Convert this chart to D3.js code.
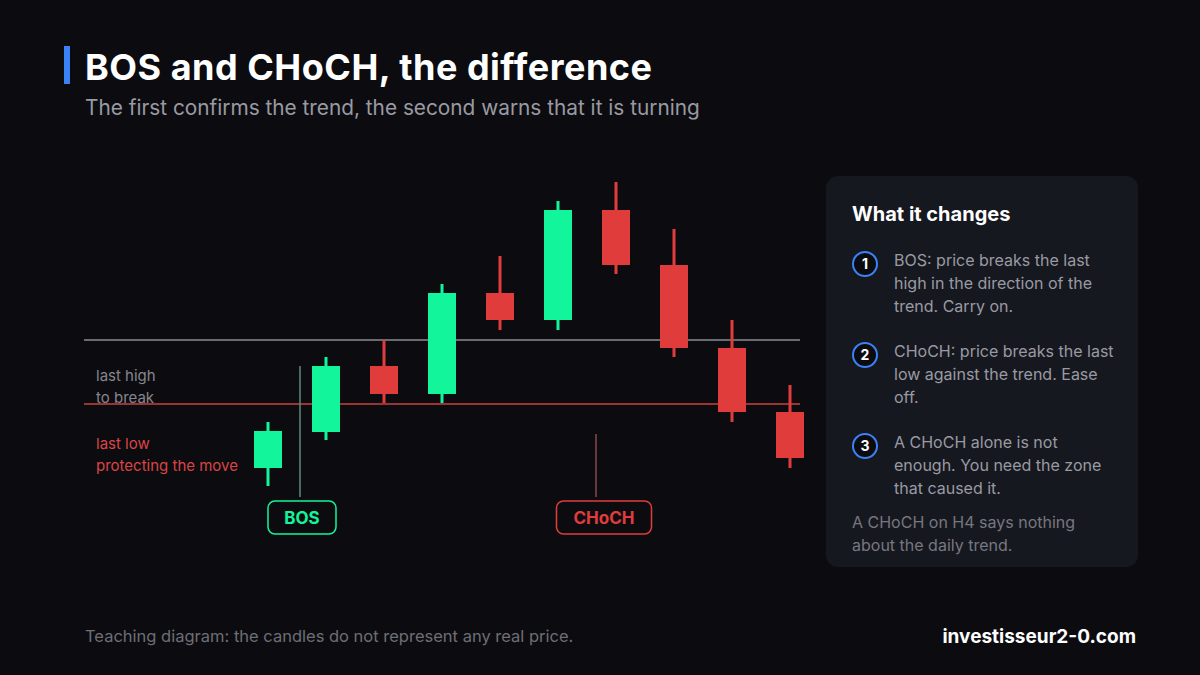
<!DOCTYPE html>
<html lang="en">
<head>
<meta charset="utf-8">
<script src="https://d3js.org/d3.v7.min.js"></script>
<style>
  html, body { margin: 0; padding: 0; background: #0c0c10; }
  text { font-family: Inter, "Noto Sans", sans-serif; }
</style>
</head>
<body>
<script>
// candles in arbitrary price units
var opens  = [32, 68, 134, 106, 207, 180, 290, 235, 152, 88];
var closes = [69, 134, 106, 207, 180, 290, 235, 152, 88, 42];
var highs  = [78, 143, 160, 216, 244, 299, 318, 271, 180, 115];
var lows   = [14, 60, 97, 97, 170, 170, 226, 143, 78, 32];
var lastHigh = 160, lastLow = 96;
var steps = [
  ["BOS: price breaks the last", "high in the direction of the", "trend. Carry on."],
  ["CHoCH: price breaks the last", "low against the trend. Ease", "off."],
  ["A CHoCH alone is not", "enough. You need the zone", "that caused it."]
];

var w = 1200, h = 675;
var green = "#12f59a", red = "#e03c3c";
var svg = d3.select("body").append("svg").attr("width", w).attr("height", h);
svg.append("rect").attr("width", w).attr("height", h).attr("fill", "#0c0c10");

// title
svg.append("rect").attr("x", 64).attr("y", 46).attr("width", 6).attr("height", 38).attr("fill", "#3b82f6");
svg.append("text").attr("x", 85).attr("y", 80).attr("fill", "#fff").attr("font-size", 36).attr("font-weight", 700)
  .attr("font-family", "'DejaVu Sans', sans-serif").attr("letter-spacing", "0.5").text("BOS and CHoCH, the difference");
svg.append("text").attr("x", 85).attr("y", 115).attr("fill", "#9a9aa3").attr("font-size", 20.8)
  .text("The first confirms the trend, the second warns that it is turning");

var x = d3.scaleLinear().domain([0, 9]).range([268, 790]);
var y = d3.scaleLinear().domain([0, 330]).range([500, 170]);
var bw = 28;

// levels
svg.append("line").attr("x1", 84).attr("x2", 800).attr("y1", y(lastHigh)).attr("y2", y(lastHigh))
  .attr("stroke", "#8a8a92").attr("stroke-width", 1.5);
svg.append("line").attr("x1", 84).attr("x2", 800).attr("y1", y(lastLow)).attr("y2", y(lastLow))
  .attr("stroke", "#c94040").attr("stroke-width", 1.5);

svg.append("text").attr("x", 96).attr("y", 381).attr("fill", "#85858d").attr("font-size", 15).text("last high");
svg.append("text").attr("x", 96).attr("y", 403).attr("fill", "#85858d").attr("font-size", 15).text("to break");
svg.append("text").attr("x", 96).attr("y", 449).attr("fill", "#d94545").attr("font-size", 15).text("last low");
svg.append("text").attr("x", 96).attr("y", 471).attr("fill", "#d94545").attr("font-size", 15).text("protecting the move");

// candles
var g = svg.append("g").selectAll("g").data(opens).join("g");
g.append("line")
  .attr("x1", function(d, i) { return x(i); }).attr("x2", function(d, i) { return x(i); })
  .attr("y1", function(d, i) { return y(highs[i]); }).attr("y2", function(d, i) { return y(lows[i]); })
  .attr("stroke", function(d, i) { return closes[i] > d ? green : red; }).attr("stroke-width", 3);
g.append("rect")
  .attr("x", function(d, i) { return x(i) - bw / 2; }).attr("width", bw)
  .attr("y", function(d, i) { return y(Math.max(d, closes[i])); })
  .attr("height", function(d, i) { return Math.abs(y(d) - y(closes[i])); })
  .attr("fill", function(d, i) { return closes[i] > d ? green : red; });

// markers
function marker(cx, y1, lineColor, label, color, bxw, bx) {
  svg.append("line").attr("x1", cx).attr("x2", cx).attr("y1", y1).attr("y2", 497)
    .attr("stroke", lineColor).attr("stroke-width", 1.5);
  svg.append("rect").attr("x", bx - bxw / 2).attr("y", 501).attr("width", bxw).attr("height", 33).attr("rx", 7)
    .attr("fill", "#0c0c10").attr("stroke", color).attr("stroke-width", 1.5);
  svg.append("text").attr("x", bx).attr("y", 524).attr("text-anchor", "middle").attr("fill", color)
    .attr("font-size", 17).attr("font-weight", 700).text(label);
}
marker(300, 366, "#5d8a77", "BOS", green, 68, 302);
marker(596, 434, "#8a4848", "CHoCH", red, 95, 604);

// panel
svg.append("rect").attr("x", 826).attr("y", 176).attr("width", 312).attr("height", 391).attr("rx", 12).attr("fill", "#16181f");
svg.append("text").attr("x", 852).attr("y", 221).attr("fill", "#fff").attr("font-size", 20).attr("font-weight", 700).text("What it changes");
steps.forEach(function(lines, i) {
  var top = 266 + i * 91;
  svg.append("circle").attr("cx", 865).attr("cy", top - 2).attr("r", 12).attr("fill", "#0c0c10")
    .attr("stroke", "#3b82f6").attr("stroke-width", 2);
  svg.append("text").attr("x", 865).attr("y", top + 3).attr("text-anchor", "middle").attr("fill", "#fff")
    .attr("font-size", 14).attr("font-weight", 700).text(i + 1);
  lines.forEach(function(t, j) {
    svg.append("text").attr("x", 894).attr("y", top + j * 23).attr("fill", "#9a9aa3").attr("font-size", 16).text(t);
  });
});
svg.append("text").attr("x", 852).attr("y", 528).attr("fill", "#77777f").attr("font-size", 16).text("A CHoCH on H4 says nothing");
svg.append("text").attr("x", 852).attr("y", 551).attr("fill", "#77777f").attr("font-size", 16).text("about the daily trend.");

// footer
svg.append("text").attr("x", 85).attr("y", 642).attr("fill", "#6e6e76").attr("font-size", 16.5)
  .text("Teaching diagram: the candles do not represent any real price.");
svg.append("text").attr("x", 1136).attr("y", 643).attr("text-anchor", "end").attr("fill", "#fff")
  .attr("font-size", 19).attr("font-weight", 700).text("investisseur2-0.com");
</script>
</body>
</html>
